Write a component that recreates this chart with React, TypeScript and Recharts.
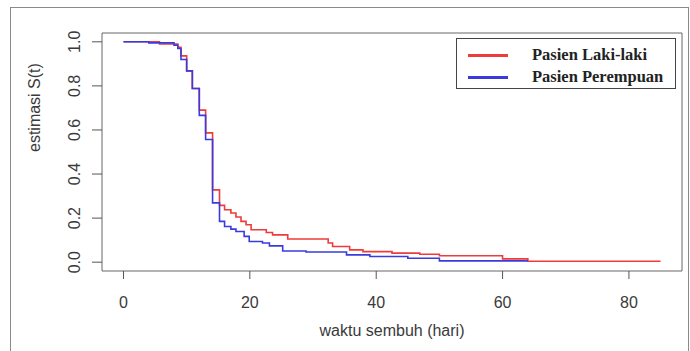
import { LineChart, Line, XAxis, YAxis, ReferenceArea, Label } from "recharts";

// Kaplan-Meier estimates
const maleT = [0, 5.7, 8.6, 9.1, 10, 10.9, 12, 13, 14.1, 15.2, 16, 17, 17.8, 18.6, 19.4, 20.2, 22.6, 23.6, 26, 32.4, 33.1, 35.8, 37.9, 42.5, 46.9, 50, 60, 64, 85];
const maleS = [1, 0.99, 0.975, 0.936, 0.868, 0.788, 0.69, 0.587, 0.328, 0.258, 0.238, 0.223, 0.205, 0.185, 0.17, 0.147, 0.135, 0.124, 0.105, 0.087, 0.071, 0.056, 0.048, 0.041, 0.036, 0.029, 0.015, 0.004, 0.004];

const femaleT = [0, 4, 8, 8.6, 9.1, 10, 10.9, 12, 13, 14.1, 15.2, 16, 17, 17.8, 19.1, 19.9, 22, 23.1, 25.2, 28.9, 35.3, 39, 45, 50, 64];
const femaleS = [1, 0.995, 0.985, 0.97, 0.92, 0.868, 0.788, 0.666, 0.557, 0.269, 0.185, 0.162, 0.15, 0.139, 0.117, 0.094, 0.087, 0.074, 0.051, 0.046, 0.033, 0.026, 0.018, 0.006, 0.006];

const xTicks = [0, 20, 40, 60, 80];
const yTicks = [0, 0.2, 0.4, 0.6, 0.8, 1.0];
const xDomain = [-3.4, 88.4];
const yDomain = [-0.04, 1.04];

const male = maleT.map((t, i) => ({ t, s: maleS[i] }));
const female = femaleT.map((t, i) => ({ t, s: femaleS[i] }));

const series = [
  { name: "Pasien Laki-laki", color: "#ee3b3b", data: male },
  { name: "Pasien Perempuan", color: "#3b3bdd", data: female },
];

const textColor = "#3a3a3a";
const sans = "'Liberation Sans', Arial, sans-serif";

const XTick = (props: any) => (
  <text
    x={props.x}
    y={props.y + 27}
    textAnchor="middle"
    fontSize={16}
    fontFamily={sans}
    fill={textColor}
  >
    {props.payload.value}
  </text>
);

const YTick = (props: any) => {
  const x = props.x - 10;
  return (
    <text
      x={x}
      y={props.y}
      transform={`rotate(-90, ${x}, ${props.y})`}
      textAnchor="middle"
      fontSize={16}
      fontFamily={sans}
      fill={textColor}
    >
      {props.payload.value.toFixed(1)}
    </text>
  );
};

export default function App() {
  return (
    <div style={{ position: "absolute", left: 0, top: 0, width: 690, height: 351, background: "#fff", overflow: "hidden" }}>
      <div
        style={{
          position: "absolute",
          left: 10,
          top: 7,
          width: 677,
          height: 360,
          border: "1px solid #8a8a8a",
        }}
      />
      <LineChart
        width={690}
        height={351}
        margin={{ top: 33, right: 8, bottom: 30, left: 22 }}
        style={{ position: "absolute", left: 0, top: 0 }}
      >
        <XAxis
          dataKey="t"
          type="number"
          domain={xDomain}
          ticks={xTicks}
          allowDataOverflow
          axisLine={false}
          tickSize={8}
          tickLine={{ stroke: "#555" }}
          tick={<XTick />}
          height={50}
        >
          <Label
            value="waktu sembuh (hari)"
            position="insideBottom"
            offset={-15}
            fontSize={16}
            fontFamily={sans}
            fill={textColor}
          />
        </XAxis>
        <YAxis
          dataKey="s"
          type="number"
          domain={yDomain}
          ticks={yTicks}
          allowDataOverflow
          axisLine={false}
          tickSize={10}
          tickLine={{ stroke: "#555" }}
          tick={<YTick />}
          width={80}
        >
          <Label
            value="estimasi S(t)"
            angle={-90}
            position="insideLeft"
            offset={12}
            fontSize={16}
            fontFamily={sans}
            fill={textColor}
          />
        </YAxis>
        <ReferenceArea
          x1={xDomain[0]}
          x2={xDomain[1]}
          y1={yDomain[0]}
          y2={yDomain[1]}
          fill="none"
          stroke="#666"
          strokeWidth={1}
        />
        {series.map((s) => (
          <Line
            key={s.name}
            data={s.data}
            dataKey="s"
            type="stepAfter"
            stroke={s.color}
            strokeWidth={1.6}
            dot={false}
            isAnimationActive={false}
          />
        ))}
      </LineChart>
      <div
        style={{
          position: "absolute",
          left: 456,
          top: 38,
          width: 220,
          height: 51,
          border: "1.5px solid #444",
          boxSizing: "border-box",
          fontFamily: "'Liberation Serif', 'Times New Roman', serif",
          fontWeight: "bold",
          fontSize: 16.5,
          color: "#222",
          padding: "5px 0 0 11px",
        }}
      >
        {series.map((s) => (
          <div key={s.name} style={{ display: "flex", alignItems: "center", height: 22 }}>
            <div style={{ width: 40, height: 3, background: s.color, marginRight: 24 }} />
            <span>{s.name}</span>
          </div>
        ))}
      </div>
    </div>
  );
}
